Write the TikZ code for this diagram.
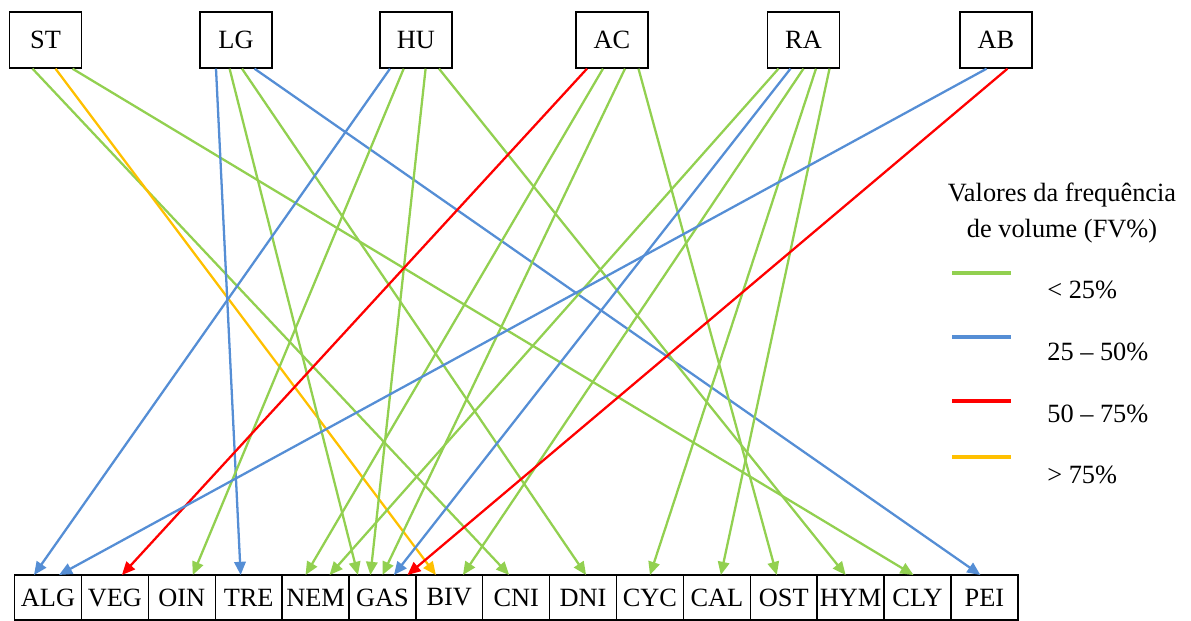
\documentclass[tikz,border=0pt]{standalone}
\usepackage{fontspec}
\setmainfont{Liberation Serif}
\usetikzlibrary{positioning,calc,arrows.meta}
\definecolor{verde}{RGB}{146,208,80}
\definecolor{azul}{RGB}{85,142,213}
\definecolor{vermelho}{RGB}{255,0,0}
\definecolor{amarelo}{RGB}{255,192,0}

\begin{document}
\begin{tikzpicture}[x=0.02cm,y=-0.02cm,
  topo/.style={draw,thick,minimum width=1.44cm,minimum height=1.12cm,inner sep=0pt},
  base/.style={draw,thick,minimum width=1.338cm,minimum height=0.9cm,inner sep=0pt,outer sep=0pt}]
\fontsize{15}{18}\selectfont
\newcommand\seta[5]{
\path[draw,line width=1.3pt,#1,-{Triangle[length=7.5pt,width=6.5pt]}] ($(#2.south)+(#3,0)$) -- ($(#4.north)+(#5,0)$);
}
\useasboundingbox (0,0) rectangle (1191,621);
% grupos de cima
\node[topo] (st) at (45.5,40) {ST};
\node[topo] (lg) at (236,40) {LG};
\node[topo] (hu) at (416,40) {HU};
\node[topo] (ac) at (612,40) {AC};
\node[topo] (ra) at (803.5,40) {RA};
\node[topo] (ab) at (996,40) {AB};
% itens de baixo
\node[base] (alg) at (48,597.5) {ALG};
\node[base,right=0pt of alg] (veg) {VEG};
\node[base,right=0pt of veg] (oin) {OIN};
\node[base,right=0pt of oin] (tre) {TRE};
\node[base,right=0pt of tre] (nem) {NEM};
\node[base,right=0pt of nem] (gas) {GAS};
\node[base,right=0pt of gas] (biv) {BIV};
\node[base,right=0pt of biv] (cni) {CNI};
\node[base,right=0pt of cni] (dni) {DNI};
\node[base,right=0pt of dni] (cyc) {CYC};
\node[base,right=0pt of cyc] (cal) {CAL};
\node[base,right=0pt of cal] (ost) {OST};
\node[base,right=0pt of ost] (hym) {HYM};
\node[base,right=0pt of hym] (cly) {CLY};
\node[base,right=0pt of cly] (pei) {PEI};
% ligacoes
\seta{verde}{st}{-13}{cni}{-7}
\seta{amarelo}{st}{10}{biv}{-13.4}
\seta{verde}{st}{27}{cly}{-4}
\seta{azul}{lg}{-20}{tre}{-8}
\seta{verde}{lg}{-6.4}{gas}{-24.5}
\seta{verde}{lg}{6}{dni}{3}
\seta{azul}{lg}{18.5}{pei}{-4}
\seta{azul}{hu}{-26}{alg}{-14}
\seta{verde}{hu}{-12.3}{oin}{11}
\seta{verde}{hu}{9.6}{gas}{-12}
\seta{verde}{hu}{23}{hym}{-5}
\seta{vermelho}{ac}{-25}{veg}{7}
\seta{verde}{ac}{-9}{nem}{-10}
\seta{verde}{ac}{13}{gas}{0}
\seta{verde}{ac}{26.5}{ost}{-7}
\seta{verde}{ra}{-25}{nem}{14}
\seta{azul}{ra}{-13}{gas}{11.5}
\seta{verde}{ra}{0}{biv}{13.6}
\seta{verde}{ra}{12.5}{cyc}{0}
\seta{verde}{ra}{26}{cal}{4}
\seta{azul}{ab}{-9.4}{alg}{11}
\seta{vermelho}{ab}{11.5}{gas}{25}
% legenda
\node[anchor=base] (tit1) at (1062,202) {Valores da frequência};
\node[anchor=base] (tit2) at (1062,238) {de volume (FV\%)};
\path[draw,verde,line width=2pt] (952,273) -- (1011,273);
\path[draw,azul,line width=2pt] (952,337) -- (1011,337);
\path[draw,vermelho,line width=2pt] (952,401) -- (1011,401);
\path[draw,amarelo,line width=2pt] (952,457) -- (1011,457);
\node[anchor=base west,inner sep=0pt] (leg1) at (1047,299) {< 25\%};
\node[anchor=base west,inner sep=0pt] (leg2) at (1047,361) {25 – 50\%};
\node[anchor=base west,inner sep=0pt] (leg3) at (1047,423) {50 – 75\%};
\node[anchor=base west,inner sep=0pt] (leg4) at (1047,484) {> 75\%};
\end{tikzpicture}
\end{document}
